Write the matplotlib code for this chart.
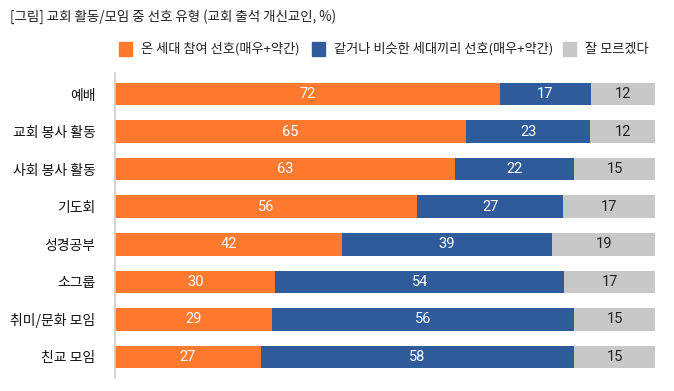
import matplotlib
matplotlib.use("Agg")
import matplotlib.pyplot as plt
import matplotlib.patches as mpatches
import numpy as np

plt.rcParams['font.family'] = ['Noto Sans CJK KR', 'DejaVu Sans']

categories = ['예배', '교회 봉사 활동', '사회 봉사 활동', '기도회', '성경공부', '소그룹', '취미/문화 모임', '친교 모임']
all_gen = [72, 65, 63, 56, 42, 30, 29, 27]
similar_gen = [17, 23, 22, 27, 39, 54, 56, 58]
dont_know = [12, 12, 15, 17, 19, 17, 15, 15]
series_names = ['온 세대 참여 선호(매우+약간)', '같거나 비슷한 세대끼리 선호(매우+약간)', '잘 모르겠다']
colors = ['#FF792F', '#2F5B9B', '#C8C8C8']
title = '[그림] 교회 활동/모임 중 선호 유형 (교회 출석 개신교인, %)'

fig = plt.figure(figsize=(6.74, 3.91), dpi=100)
ax = fig.add_axes([115/674, 1-378/391, 540/674, 305/391])

y = np.arange(len(categories))
data = np.array([all_gen, similar_gen, dont_know], dtype=float)
row_tot = data.sum(axis=0)
shares = data / row_tot * 100  # rounded labels; bars span 100% per row
left = np.zeros(len(categories))
text_colors = ['white', 'white', '#222222']
for vals, shr, c, tc in zip(data, shares, colors, text_colors):
    ax.barh(y, shr, left=left, height=0.6, color=c, edgecolor='none')
    for yi, l, w, v in zip(y, left, shr, vals):
        ax.text(l + w/2, yi, f'{int(v)}', ha='center', va='center', color=tc,
                fontsize=10.5, family=['Roboto', 'DejaVu Sans'])
    left += shr

ax.set_xlim(0, 100)
ax.set_ylim(len(categories) - 1 + 0.56, -0.56)
ax.set_yticks(y)
ax.set_yticklabels(categories, fontsize=10, color='#111111')
ax.tick_params(axis='y', length=0, pad=14)
ax.set_xticks([])
for s in ['top', 'right', 'bottom']:
    ax.spines[s].set_visible(False)
ax.spines['left'].set_color('#CCCCCC')
ax.spines['left'].set_linewidth(1.2)

fig.text(10/674, 1-17/391, title, ha='left', va='center', fontsize=9.7, color='#222222')

# legend
leg_y = 1-49/391
sq_w = 13/674
sq_h = 14/391
positions = [119, 312, 563]
for px, c, name in zip(positions, colors, series_names):
    fig.patches.append(mpatches.Rectangle((px/674, leg_y - sq_h/2), sq_w, sq_h, transform=fig.transFigure,
                                          color=c, figure=fig))
    fig.text((px + 22)/674, leg_y, name, ha='left', va='center', fontsize=9.5, color='#222222')

fig.savefig('out.png', dpi=100)
